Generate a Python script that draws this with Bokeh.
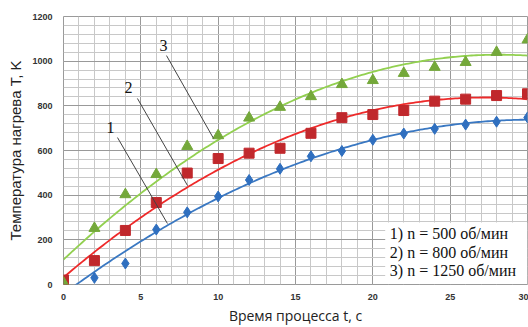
import numpy as np
from bokeh.plotting import figure
from bokeh.models import Range1d, Label, BoxAnnotation, SingleIntervalTicker, ColumnDataSource
from bokeh.embed import file_html
from bokeh.resources import INLINE

t = [0, 2, 4, 6, 8, 10, 12, 14, 16, 18, 20, 22, 24, 26, 28, 30]
T_500 = [0, 30, 94, 246, 323, 394, 468, 518, 574, 598, 648, 676, 697, 716, 729, 748]
T_800 = [20, 107, 242, 367, 499, 564, 588, 610, 677, 747, 761, 779, 821, 830, 846, 854]
T_1250 = [8, 252, 403, 493, 619, 667, 746, 794, 842, 896, 914, 946, 973, 995, 1040, 1096]
legend_lines = ["1) n = 500 об/мин", "2) n = 800 об/мин", "3) n = 1250 об/мин"]

p = figure(width=528, height=327, output_backend="svg", toolbar_location=None,
           x_range=Range1d(0, 30), y_range=Range1d(0, 1200),
           min_border_left=63, min_border_right=1, min_border_top=16, min_border_bottom=10)
p.outline_line_color = "#9a9a9a"
p.background_fill_color = "white"
p.border_fill_color = "white"

p.xaxis.ticker = SingleIntervalTicker(interval=5, num_minor_ticks=5)
p.yaxis.ticker = SingleIntervalTicker(interval=200, num_minor_ticks=5)
for ax in (p.xaxis[0], p.yaxis[0]):
    ax.axis_line_color = None
    ax.major_tick_line_color = None
    ax.minor_tick_line_color = None
    ax.major_tick_in = 0
    ax.major_tick_out = 0
    ax.minor_tick_in = 0
    ax.minor_tick_out = 0
    ax.major_label_text_font = "Liberation Sans"
    ax.major_label_text_font_style = "bold"
    ax.major_label_text_font_size = "9px"
    ax.major_label_text_color = "#333333"
    ax.axis_label_text_font_style = "normal"
    ax.axis_label_text_color = "#222222"

p.xaxis.axis_label = "Время процесса t, с"
p.xaxis.axis_label_text_font = "Open Sans"
p.xaxis.axis_label_text_font_size = "14px"
p.xaxis.major_label_standoff = 9
p.xaxis.axis_label_standoff = 3
p.yaxis.axis_label = "Температура нагрева T, K"
p.yaxis.axis_label_text_font = "Liberation Sans"
p.yaxis.axis_label_text_font_size = "15px"
p.yaxis.major_label_standoff = 11
p.yaxis.axis_label_standoff = 5

for g in (p.xgrid[0], p.ygrid[0]):
    g.grid_line_color = "#999999"
    g.grid_line_width = 1
    g.minor_grid_line_color = "#c8c8c8"
    g.minor_grid_line_width = 1

tt = np.linspace(0, 30, 200)
series = [
    (T_500, "#3a78c2", "#2f6fbf", "diamond", 11),
    (T_800, "#ee2a2a", "#c0282c", "square", 10),
    (T_1250, "#92d050", "#74a83a", "triangle", 11),
]
for vals, lc, mc, marker, size in series:
    coef = np.polyfit(t, vals, 2)
    p.line(tt, np.polyval(coef, tt), line_color=lc, line_width=1.8)
for vals, lc, mc, marker, size in series:
    p.scatter(t, vals, marker=marker, size=size, fill_color=mc, line_color=mc)

# leader lines and curve numbers
lead = ColumnDataSource(dict(x0=[3.49, 4.78, 6.66], y0=[658, 833, 1025],
                             x1=[6.72, 8.02, 9.70], y1=[273, 443, 654]))
p.segment("x0", "y0", "x1", "y1", source=lead, line_color="#444444", line_width=1)
for txt, x, y in [("1", 3.04, 703), ("2", 4.2, 882), ("3", 6.46, 1070)]:
    p.add_layout(Label(x=x, y=y, text=txt, text_font="Liberation Serif", text_font_size="16px",
                       text_align="center", text_baseline="middle", text_color="#111111"))

p.add_layout(BoxAnnotation(left=20.8, right=30, bottom=2, top=278, fill_color="white",
                           fill_alpha=1, line_color=None))
for txt, y in zip(legend_lines, [228, 143, 63]):
    p.add_layout(Label(x=21.1, y=y, text=txt, text_font="Liberation Serif", text_font_size="16px",
                       text_align="left", text_baseline="middle", text_color="#111111"))

open("out.html", "w").write(file_html(p, INLINE))
